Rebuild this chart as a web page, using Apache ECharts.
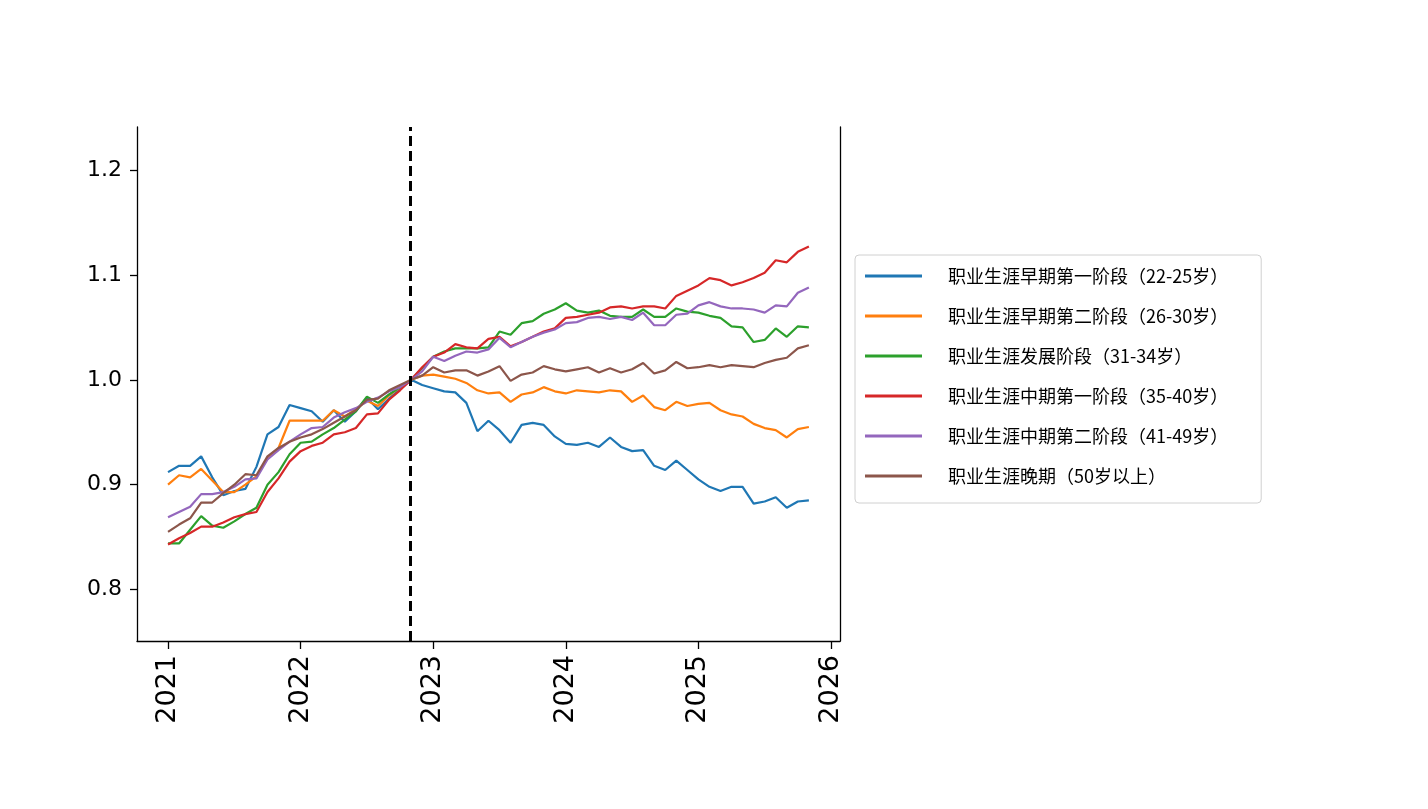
<!DOCTYPE html>
<html>
<head>
<meta charset="utf-8">
<script src="https://cdn.jsdelivr.net/npm/echarts@6/dist/echarts.min.js"></script>
<style>
  html, body { margin: 0; padding: 0; background: #fff; }
  #main { width: 1428px; height: 809px; }
</style>
</head>
<body>
<div id="main"></div>
<script>
// 各职业阶段指数（以2022年11月为基准 = 1.0），2021-01 至 2025-11 月度

const seriesNames = [
    '职业生涯早期第一阶段（22-25岁）',
    '职业生涯早期第二阶段（26-30岁）',
    '职业生涯发展阶段（31-34岁）',
    '职业生涯中期第一阶段（35-40岁）',
    '职业生涯中期第二阶段（41-49岁）',
    '职业生涯晚期（50岁以上）'
];

const early1 = [0.912, 0.918, 0.918, 0.927, 0.907, 0.890, 0.894, 0.896, 0.917, 0.948, 0.955, 0.976,
    0.973, 0.970, 0.960, 0.971, 0.960, 0.970, 0.983, 0.972, 0.982, 0.991, 1.000, 0.995,
    0.992, 0.989, 0.988, 0.978, 0.951, 0.961, 0.952, 0.940, 0.957, 0.959, 0.957, 0.946,
    0.939, 0.938, 0.940, 0.936, 0.945, 0.936, 0.932, 0.933, 0.918, 0.914, 0.923, 0.914,
    0.905, 0.898, 0.894, 0.898, 0.898, 0.882, 0.884, 0.888, 0.878, 0.884, 0.885];

const early2 = [0.900, 0.909, 0.907, 0.915, 0.904, 0.893, 0.893, 0.900, 0.908, 0.925, 0.935, 0.961,
    0.961, 0.961, 0.961, 0.971, 0.965, 0.972, 0.980, 0.975, 0.985, 0.993, 1.000, 1.004,
    1.005, 1.003, 1.001, 0.997, 0.990, 0.987, 0.988, 0.979, 0.986, 0.988, 0.993, 0.989,
    0.987, 0.990, 0.989, 0.988, 0.990, 0.989, 0.979, 0.985, 0.974, 0.971, 0.979, 0.975,
    0.977, 0.978, 0.971, 0.967, 0.965, 0.958, 0.954, 0.952, 0.945, 0.953, 0.955];

const develop = [0.844, 0.844, 0.857, 0.870, 0.861, 0.859, 0.865, 0.872, 0.878, 0.900, 0.912, 0.929,
    0.940, 0.941, 0.948, 0.954, 0.962, 0.970, 0.984, 0.978, 0.986, 0.993, 1.000, 1.011,
    1.022, 1.027, 1.030, 1.030, 1.030, 1.031, 1.046, 1.043, 1.054, 1.056, 1.063, 1.067,
    1.073, 1.066, 1.064, 1.066, 1.061, 1.060, 1.060, 1.067, 1.060, 1.060, 1.068, 1.065,
    1.064, 1.061, 1.059, 1.051, 1.050, 1.036, 1.038, 1.049, 1.041, 1.051, 1.050];

const mid1 = [0.843, 0.849, 0.854, 0.860, 0.860, 0.864, 0.869, 0.872, 0.874, 0.893, 0.906, 0.922,
    0.932, 0.937, 0.940, 0.948, 0.950, 0.954, 0.967, 0.968, 0.981, 0.990, 1.000, 1.012,
    1.022, 1.026, 1.034, 1.031, 1.030, 1.039, 1.041, 1.032, 1.036, 1.041, 1.046, 1.049,
    1.059, 1.060, 1.062, 1.064, 1.069, 1.070, 1.068, 1.070, 1.070, 1.068, 1.080, 1.085,
    1.090, 1.097, 1.095, 1.090, 1.093, 1.097, 1.102, 1.114, 1.112, 1.122, 1.127];

const mid2 = [0.869, 0.874, 0.879, 0.891, 0.891, 0.893, 0.898, 0.905, 0.906, 0.924, 0.933, 0.941,
    0.948, 0.954, 0.955, 0.964, 0.969, 0.973, 0.979, 0.983, 0.989, 0.993, 1.000, 1.008,
    1.022, 1.018, 1.023, 1.027, 1.026, 1.029, 1.040, 1.031, 1.036, 1.041, 1.045, 1.048,
    1.054, 1.055, 1.059, 1.060, 1.058, 1.060, 1.057, 1.064, 1.052, 1.052, 1.062, 1.063,
    1.071, 1.074, 1.070, 1.068, 1.068, 1.067, 1.064, 1.071, 1.070, 1.083, 1.088];

const late = [0.855, 0.862, 0.868, 0.883, 0.883, 0.892, 0.900, 0.910, 0.909, 0.927, 0.935, 0.941,
    0.945, 0.948, 0.953, 0.959, 0.965, 0.971, 0.981, 0.982, 0.990, 0.995, 1.000, 1.004,
    1.012, 1.007, 1.009, 1.009, 1.004, 1.008, 1.013, 0.999, 1.005, 1.007, 1.013, 1.010,
    1.008, 1.010, 1.012, 1.007, 1.011, 1.007, 1.010, 1.016, 1.006, 1.009, 1.017, 1.011,
    1.012, 1.014, 1.012, 1.014, 1.013, 1.012, 1.016, 1.019, 1.021, 1.030, 1.033];

const allValues = [early1, early2, develop, mid1, mid2, late];
const colors = ['#1f77b4', '#ff7f0e', '#2ca02c', '#d62728', '#9467bd', '#8c564b'];

// 月份：2021-01 ~ 2025-11
const months = [];
for (let y = 2021; y <= 2025; y++) {
    for (let m = 1; m <= 12; m++) {
        if (y === 2025 && m > 11) break;
        months.push(y + '-' + String(m).padStart(2, '0'));
    }
}
const yearTicks = [2021, 2022, 2023, 2024, 2025, 2026];
const yTicks = [0.8, 0.9, 1.0, 1.1, 1.2];
const baseMonth = '2022-11';

// 月份转为小数年份，用于数值轴
function toYear(s) {
    const [y, m] = s.split('-').map(Number);
    return y + (m - 1) / 12;
}

const chart = echarts.init(document.getElementById('main'));

const series = seriesNames.map((name, k) => {
    const s = {
        name: name,
        type: 'line',
        showSymbol: false,
        symbol: 'none',
        lineStyle: { width: 2.2, color: colors[k] },
        itemStyle: { color: colors[k] },
        data: months.map((m, i) => [toYear(m), allValues[k][i]]),
        animation: false
    };
    if (k === 0) {
        s.markLine = {
            silent: true,
            symbol: 'none',
            label: { show: false },
            lineStyle: { color: '#000', type: [10, 5], width: 3 },
            data: [{ xAxis: toYear(baseMonth) }],
            animation: false
        };
    }
    return s;
});

const axisFont = 'DejaVu Sans';

const option = {
    backgroundColor: '#fff',
    animation: false,
    color: colors,
    grid: {
        left: 137, right: 588, top: 127, bottom: 168,
        outerBoundsMode: 'none'
    },
    legend: {
        orient: 'vertical',
        left: 855,
        top: 255,
        icon: 'rect',
        itemWidth: 57,
        itemHeight: 3,
        itemGap: 20,
        padding: [11, 33, 17, 10],
        backgroundColor: '#fff',
        borderColor: '#d0d0d0',
        borderWidth: 1,
        borderRadius: 4,
        textStyle: {
            fontFamily: 'Noto Sans CJK SC',
            fontSize: 18,
            lineHeight: 20,
            color: '#000',
            padding: [0, 0, 0, 21]
        },
        data: seriesNames
    },
    xAxis: {
        type: 'value',
        min: 2020.766,
        max: 2026.068,
        splitLine: { show: false },
        axisLine: { show: true, onZero: false, lineStyle: { color: '#000', width: 1.3 } },
        axisTick: { show: true, length: 8, customValues: yearTicks, lineStyle: { color: '#000', width: 1.3 } },
        axisLabel: {
            customValues: yearTicks,
            rotate: 90,
            fontSize: 27,
            fontFamily: axisFont,
            color: '#000',
            margin: 14,
            formatter: v => String(Math.round(v))
        }
    },
    yAxis: [{
        type: 'value',
        min: 0.751,
        max: 1.241,
        splitLine: { show: false },
        axisLine: { show: true, lineStyle: { color: '#000', width: 1.3 } },
        axisTick: { show: true, length: 7, customValues: yTicks, lineStyle: { color: '#000', width: 1.3 } },
        axisLabel: {
            customValues: yTicks,
            fontSize: 22,
            fontFamily: axisFont,
            color: '#000',
            margin: 15,
            formatter: v => v.toFixed(1)
        }
    }, {
        type: 'value',
        position: 'right',
        min: 0.751,
        max: 1.241,
        splitLine: { show: false },
        axisLine: { show: true, lineStyle: { color: '#000', width: 1.3 } },
        axisTick: { show: false },
        axisLabel: { show: false }
    }],
    series: series
};

chart.setOption(option);
</script>
</body>
</html>
